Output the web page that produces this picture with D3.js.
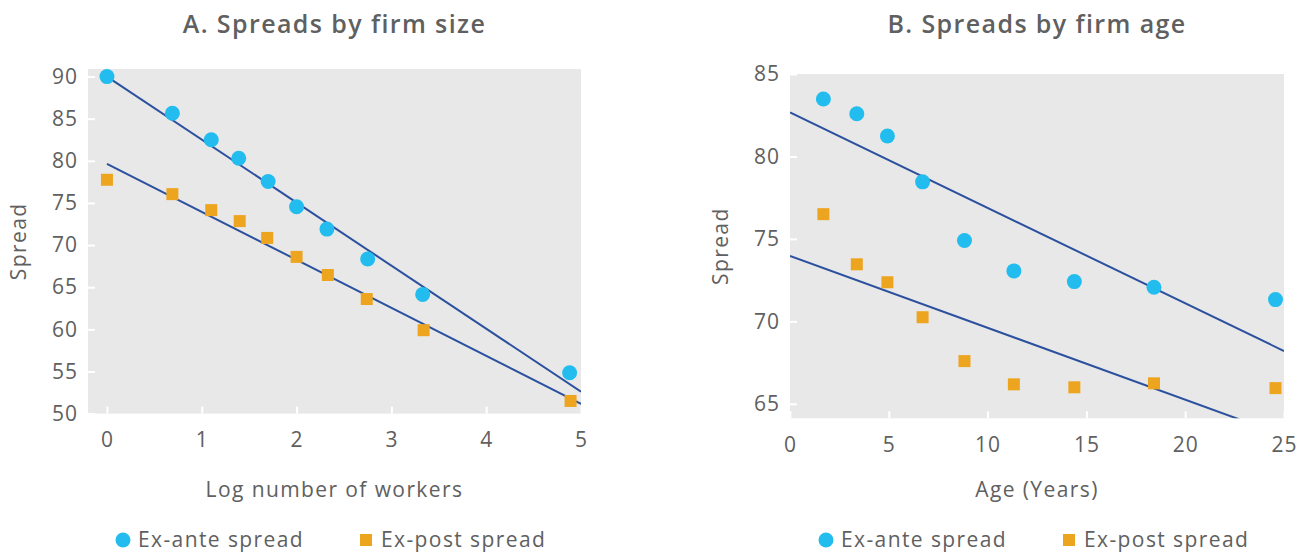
<!DOCTYPE html>
<html>
<head>
<meta charset="utf-8">
<script src="https://cdn.jsdelivr.net/npm/d3@7"></script>
<style>
  body { margin: 0; background: #fff; }
  svg text { font-family: "Open Sans", sans-serif; fill: #606060; letter-spacing: 1.4px; }
</style>
</head>
<body>
<div id="container"></div>
<script>
// ---- data ----
// Panel A: log number of workers
const sizeX       = [0, 0.69, 1.10, 1.39, 1.70, 2.00, 2.32, 2.75, 3.33, 4.88];
const sizeXPost   = [0, 0.69, 1.10, 1.40, 1.69, 2.00, 2.33, 2.74, 3.34, 4.89];
const sizeExAnte  = [90.0, 85.65, 82.5, 80.3, 77.55, 74.55, 71.9, 68.35, 64.15, 54.85];
const sizeExPost  = [77.75, 76.05, 74.15, 72.85, 70.85, 68.6, 66.45, 63.6, 59.9, 51.5];
const sizeFitAnte = [[0, 90.0], [5, 52.6]];
const sizeFitPost = [[0, 79.65], [5, 51.15]];
const sizeXTicks  = [0, 1, 2, 3, 4, 5];
const sizeYTicks  = [50, 55, 60, 65, 70, 75, 80, 85, 90];

// Panel B: firm age
const ageX        = [1.69, 3.38, 4.93, 6.71, 8.83, 11.33, 14.39, 18.42, 24.57];
const ageExAnte   = [83.48, 82.59, 81.24, 78.46, 74.9, 73.06, 72.41, 72.07, 71.32];
const ageExPost   = [76.5, 73.46, 72.37, 70.25, 67.59, 66.18, 66.0, 66.24, 65.95];
const ageFitAnte  = [[0, 82.67], [25, 68.2]];
const ageFitPost  = [[0, 73.97], [22.75, 64.05]];
const ageXTicks   = [0, 5, 10, 15, 20, 25];
const ageYTicks   = [65, 70, 75, 80, 85];

const blue = "#22bdee", orange = "#eda520", lineCol = "#2b509e", bg = "#e8e8e8";

const svg = d3.select("#container").append("svg")
  .attr("width", 1297).attr("height", 552);

function drawPanel(o) {
  const g = svg.append("g");
  const x = d3.scaleLinear().domain(o.xDomain).range([o.left, o.right]);
  const y = d3.scaleLinear().domain(o.yDomain).range([o.bottom, o.top]);

  g.append("rect")
    .attr("x", o.left).attr("y", o.top)
    .attr("width", o.right - o.left).attr("height", o.bottom - o.top)
    .attr("fill", bg);

  const clipId = "clip" + o.id;
  svg.append("clipPath").attr("id", clipId).append("rect")
    .attr("x", o.left).attr("y", o.top)
    .attr("width", o.right - o.left).attr("height", o.bottom - o.top);

  // y axis
  const ya = g.append("g").attr("transform", `translate(${o.left},0)`)
    .call(d3.axisRight(y).tickValues(o.yTicks).tickSize(7).tickFormat(d3.format("d")));
  ya.select(".domain").remove();
  ya.selectAll(".tick line").attr("stroke", "#fff").attr("stroke-width", 2);
  ya.selectAll(".tick text").attr("text-anchor", "end").attr("x", -10)
    .style("font-size", "21px").style("fill", "#606060").style("letter-spacing", "1px");

  // x axis
  const xa = g.append("g").attr("transform", `translate(0,${o.bottom})`)
    .call(d3.axisTop(x).tickValues(o.xTicks).tickSize(7).tickFormat(d3.format("d")));
  xa.select(".domain").remove();
  xa.selectAll(".tick line").attr("stroke", "#fff").attr("stroke-width", 2);
  xa.selectAll(".tick text").attr("y", 27).attr("dy", "0.32em")
    .style("font-size", "21px").style("fill", "#606060").style("letter-spacing", "1px");

  // fitted lines
  const line = d3.line().x(d => x(d[0])).y(d => y(d[1]));
  g.append("g").attr("clip-path", `url(#${clipId})`)
    .selectAll("path").data([o.fitAnte, o.fitPost]).join("path")
    .attr("d", line).attr("fill", "none")
    .attr("stroke", lineCol).attr("stroke-width", 2);

  // ex-post squares
  g.selectAll("rect.post").data(o.post).join("rect").attr("class", "post")
    .attr("x", (d, i) => x(o.xPost[i]) - 6).attr("y", d => y(d) - 6)
    .attr("width", 12).attr("height", 12).attr("fill", orange);

  // ex-ante circles
  g.selectAll("circle.ante").data(o.ante).join("circle").attr("class", "ante")
    .attr("cx", (d, i) => x(o.xAnte[i])).attr("cy", d => y(d))
    .attr("r", 7.5).attr("fill", blue);

  const cx = (o.left + o.right) / 2;
  g.append("text").attr("x", cx).attr("y", 33).attr("text-anchor", "middle")
    .style("font-size", "25px").style("font-weight", 600).text(o.title);
  g.append("text").attr("x", cx).attr("y", 497).attr("text-anchor", "middle")
    .style("font-size", "21px").text(o.xLabel);
  g.append("text")
    .attr("transform", `translate(${o.left - 62},${(o.top + o.bottom) / 2}) rotate(-90)`)
    .attr("text-anchor", "middle").style("font-size", "21px").text("Spread");

  // legend
  const lg = g.append("g").attr("transform", `translate(${o.legendX},540)`);
  lg.append("circle").attr("cx", 0).attr("cy", 0).attr("r", 7.5).attr("fill", blue);
  lg.append("text").attr("x", 15).attr("y", 0).attr("dy", "0.35em")
    .style("font-size", "21px").text("Ex-ante spread");
  lg.append("rect").attr("x", 237).attr("y", -6).attr("width", 12).attr("height", 12).attr("fill", orange);
  lg.append("text").attr("x", 258).attr("y", 0).attr("dy", "0.35em")
    .style("font-size", "21px").text("Ex-post spread");
}

drawPanel({
  id: "A", title: "A. Spreads by firm size", xLabel: "Log number of workers",
  left: 88, right: 581, top: 69, bottom: 413.6,
  xDomain: [-0.2, 5], yDomain: [50, 90.9],
  xTicks: sizeXTicks, yTicks: sizeYTicks,
  xAnte: sizeX, xPost: sizeXPost, ante: sizeExAnte, post: sizeExPost,
  fitAnte: sizeFitAnte, fitPost: sizeFitPost, legendX: 123
});

drawPanel({
  id: "B", title: "B. Spreads by firm age", xLabel: "Age (Years)",
  left: 790, right: 1284, top: 74, bottom: 418.3,
  xDomain: [0, 25], yDomain: [64.12, 85],
  xTicks: ageXTicks, yTicks: ageYTicks,
  xAnte: ageX, xPost: ageX, ante: ageExAnte, post: ageExPost,
  fitAnte: ageFitAnte, fitPost: ageFitPost, legendX: 826
});
</script>
</body>
</html>
